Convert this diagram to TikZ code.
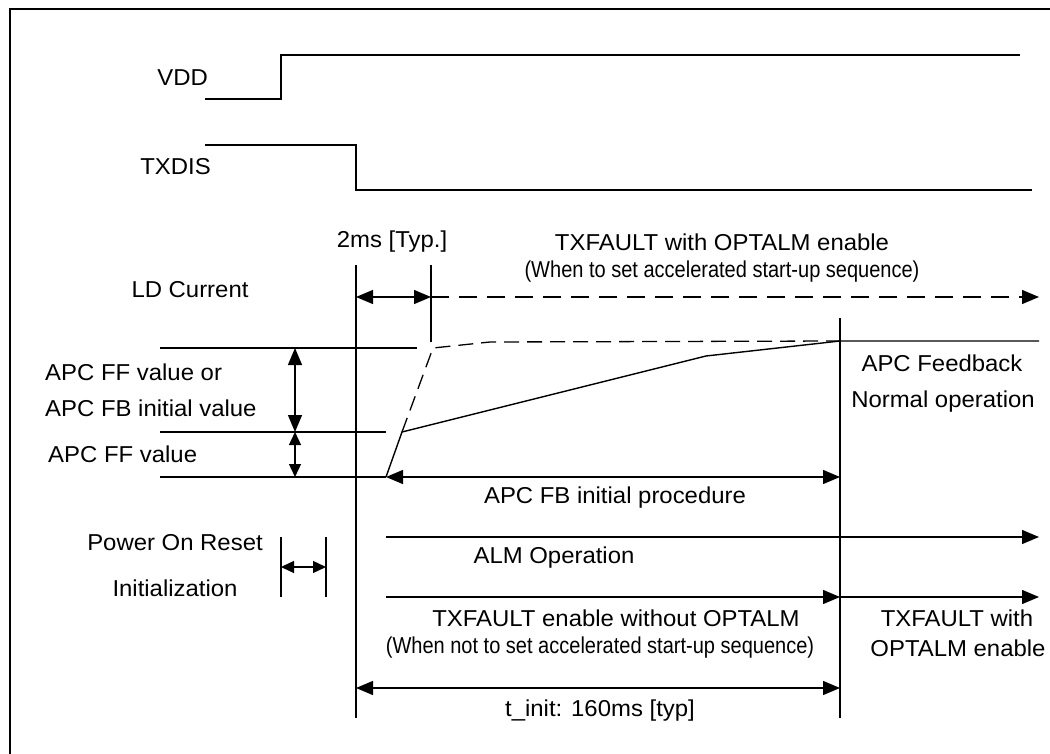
\documentclass[tikz,border=0pt]{standalone}
\usepackage{fontspec}
\setmainfont{Liberation Sans}[FakeStretch=1.04]
\newfontfamily\narrowfont{Liberation Sans}[FakeStretch=0.87]
\usetikzlibrary{arrows.meta}

\tikzset{
  wave/.style={line width=1.4pt, line join=miter},
  guide/.style={line width=1.3pt},
  dim/.style={line width=1.3pt, {Triangle[length=17pt,width=14pt]}-{Triangle[length=17pt,width=14pt]}},
  dimsmall/.style={line width=1.3pt, {Triangle[length=13pt,width=12pt]}-{Triangle[length=13pt,width=12pt]}},
  ray/.style={line width=1.3pt, -{Triangle[length=17pt,width=14pt]}},
  dashedline/.style={line width=1.3pt, dash pattern=on 15pt off 8pt},
  lbl/.style={inner sep=0pt, font=\fontsize{23}{27}\selectfont},
  note/.style={inner sep=0pt, font=\narrowfont\fontsize{23}{27}\selectfont},
}

\begin{document}
\begin{tikzpicture}[x=1pt, y=-1pt]
\useasboundingbox (0,0) rectangle (1050,754);

% frame (only its upper-left corner falls inside the page)
\coordinate (fbl) at (10,754);
\coordinate (ftl) at (10,9);
\coordinate (ftr) at (1050,9);
\draw[line width=1.6pt] (fbl) -- (ftl) -- (ftr);

% ---------- VDD ----------
\node[lbl, anchor=east] (vddlbl) at (208,78) {VDD};
\coordinate (vdd0) at (205,99);
\coordinate (vdd1) at (281,99);
\coordinate (vdd2) at (281,55);
\coordinate (vdd3) at (1020,55);
\draw[wave] (vdd0) -- (vdd1) -- (vdd2) -- (vdd3);

% ---------- TXDIS ----------
\node[lbl, anchor=east] (txdislbl) at (211,167) {TXDIS};
\coordinate (tx0) at (205,145);
\coordinate (tx1) at (356,145);
\coordinate (tx2) at (356,190);
\coordinate (tx3) at (1032,190);
\draw[wave] (tx0) -- (tx1) -- (tx2) -- (tx3);

% ---------- time markers ----------
\coordinate (tA0) at (356,265);
\coordinate (tA1) at (356,718);
\coordinate (tB0) at (431,265);
\coordinate (tB1) at (431,342);
\coordinate (tC0) at (840,318);
\coordinate (tC1) at (840,718);
\draw[guide] (tA0) -- (tA1);
\draw[guide] (tB0) -- (tB1);
\draw[guide] (tC0) -- (tC1);

% 2 ms interval and accelerated TXFAULT
\node[lbl] (twoms) at (392,242) {2ms [Typ.]};
\coordinate (d2a) at (356,297);
\coordinate (d2b) at (431,297);
\coordinate (d2c) at (1039,297);
\draw[dim] (d2a) -- (d2b);
\draw[line width=1.3pt, dash pattern=on 18pt off 10pt, -{Triangle[length=17pt,width=14pt]}] (d2b) -- (d2c);
\node[lbl] (txfa) at (722,242) {TXFAULT with OPTALM enable};
\node[note] (txfanote) at (722,272) {(When to set accelerated start-up sequence)};

% ---------- LD current ----------
\node[lbl] (ldlbl) at (190,290) {LD Current};

\coordinate (lvHi0) at (160,348);
\coordinate (lvHi1) at (417,348);
\coordinate (lvMid0) at (160,432);
\coordinate (lvMid1) at (386,432);
\coordinate (lvLo0) at (160,477);
\coordinate (lvLo1) at (386,477);
\draw[guide] (lvHi0) -- (lvHi1);
\draw[guide] (lvMid0) -- (lvMid1);
\draw[guide] (lvLo0) -- (lvLo1);

\coordinate (vaHi) at (295,348);
\coordinate (vaMid) at (295,432);
\coordinate (vaLo) at (295,477);
\draw[dim] (vaHi) -- (vaMid);
\draw[dimsmall] (vaMid) -- (vaLo);

\node[lbl, anchor=west] (ffor) at (45,372) {APC FF value or};
\node[lbl, anchor=west] (fbinit) at (45,408) {APC FB initial value};
\node[lbl, anchor=west] (ffval) at (48,454) {APC FF value};

% current waveform: feedback start-up (solid) and accelerated (dashed)
\coordinate (ld0) at (386,477);
\coordinate (ld1) at (402,432);
\coordinate (ld2) at (706,356);
\coordinate (ld3) at (840,341);
\coordinate (ld4) at (1039,341);
\coordinate (ldd1) at (433,348);
\coordinate (ldd2) at (490,342);
\draw[wave] (ld0) -- (ld1) -- (ld2) -- (ld3) -- (ld4);
\draw[dashedline] (ld1) -- (ldd1) -- (ldd2) -- (ld3);

\node[lbl] (apcfb) at (942,363) {APC Feedback};
\node[lbl] (normop) at (943,402) {Normal operation};

% ---------- intervals ----------
\coordinate (pr0) at (386,477);
\coordinate (pr1) at (840,477);
\draw[dim] (pr0) -- (pr1);
\node[lbl] (prlbl) at (615,498) {APC FB initial procedure};

\coordinate (alm0) at (386,537);
\coordinate (alm1) at (1039,537);
\draw[ray] (alm0) -- (alm1);
\node[lbl] (almlbl) at (554,558) {ALM Operation};

\coordinate (tf0) at (386,597);
\coordinate (tf1) at (840,597);
\coordinate (tf2) at (1039,597);
\draw[ray] (tf0) -- (tf1);
\draw[ray] (tf1) -- (tf2);
\node[lbl] (tflbl) at (616,618) {TXFAULT enable without OPTALM};
\node[note] (tfnote) at (600,648) {(When not to set accelerated start-up sequence)};
\node[lbl] (tfw1) at (957,618) {TXFAULT with};
\node[lbl] (tfw2) at (958,648) {OPTALM enable};

\coordinate (ti0) at (356,688);
\coordinate (ti1) at (840,688);
\draw[dim] (ti0) -- (ti1);
\node[lbl] (tilbl) at (600,711) {t\_init: 160ms [typ]};

% ---------- power-on reset ----------
\node[lbl] (porlbl) at (175,543) {Power On Reset};
\node[lbl] (initlbl) at (175,588) {Initialization};
\coordinate (por0a) at (281,537);
\coordinate (por0b) at (281,597);
\coordinate (por1a) at (326,537);
\coordinate (por1b) at (326,597);
\coordinate (porm0) at (281,567);
\coordinate (porm1) at (326,567);
\draw[guide] (por0a) -- (por0b);
\draw[guide] (por1a) -- (por1b);
\draw[dimsmall] (porm0) -- (porm1);
\end{tikzpicture}
\end{document}
